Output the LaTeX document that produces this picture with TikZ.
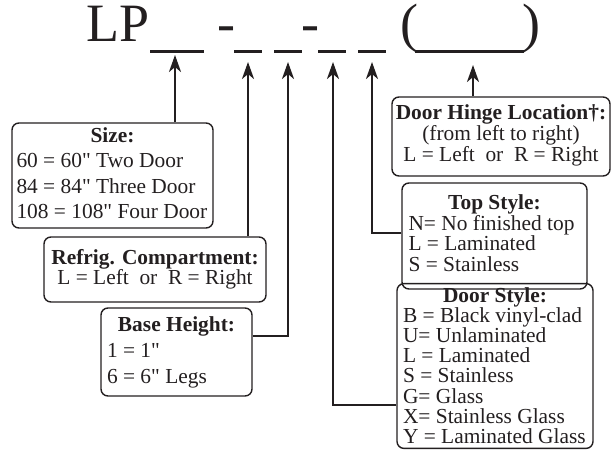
\documentclass[tikz,border=0pt]{standalone}
\usepackage{fontspec}
\setmainfont{Liberation Serif}
\newfontfamily\libserif{Liberation Serif}
\usetikzlibrary{arrows.meta}
\definecolor{ink}{HTML}{231F20}
\begin{document}
\libserif
\begin{tikzpicture}[x=1pt,y=-1pt,
  every node/.style={text=ink},
  titletext/.style={font=\libserif\fontsize{54}{60}\selectfont, inner sep=0pt, anchor=base},
  uline/.style={draw=ink, line width=3pt},
  infobox/.style={draw=ink, line width=1.4pt, rounded corners=7pt, inner sep=0pt},
  conn/.style={draw=ink, line width=2.5pt, line join=miter,
    -{Stealth[length=17pt,width=12pt,inset=5pt]}}]
\useasboundingbox (0,0) rectangle (613,476);

% title line
\node[titletext] (lp) at (118.5,42) {LP};
\node[titletext] (h1) at (226,42) {-};
\node[titletext] (h2) at (310,42) {-};
\node[titletext] (pl) at (409.5,42) {(};
\node[titletext] (pr) at (531,42) {)};
\draw[uline] (150,52) -- (204,52);
\draw[uline] (234,52) -- (262,52);
\draw[uline] (274,52) -- (302,52);
\draw[uline] (318,52) -- (346,52);
\draw[uline] (358,52) -- (386,52);
\draw[uline] (415,52) -- (524,52);

% arrow tips and bends
\coordinate (t1) at (175,55);
\coordinate (t2) at (248,62);
\coordinate (t3) at (288,62);
\coordinate (t4) at (333,62);
\coordinate (t5) at (372,62);
\coordinate (t6) at (473,65);
\coordinate (k3) at (288,336);
\coordinate (k4) at (333,405);
\coordinate (k5) at (372,233);

% boxes
\node[infobox, minimum width=201pt, minimum height=105pt, font=\libserif\fontsize{21.4}{25.3}\selectfont]
  (size) at (112.5,175.5)
  {\begin{tabular}{@{}p{192pt}@{}}\multicolumn{1}{@{}c@{}}{\bfseries Size:}\\
   60 = 60" Two Door\\ 84 = 84" Three Door\\ 108 = 108" Four Door\end{tabular}};

\node[infobox, minimum width=222pt, minimum height=65pt, font=\libserif\fontsize{21.4}{18}\selectfont]
  (refrig) at (155,269.5)
  {\begin{tabular}{@{}c@{}}\bfseries Refrig. Compartment:\\ L = Left~~or~~R = Right\end{tabular}};

\node[infobox, minimum width=151pt, minimum height=88pt, font=\libserif\fontsize{21.4}{26}\selectfont]
  (base) at (176.5,352)
  {\begin{tabular}{@{}p{139pt}@{}}\multicolumn{1}{@{}c@{}}{\bfseries Base Height:}\\
   1 = 1"\\ 6 = 6" Legs\end{tabular}};

\node[infobox, minimum width=196pt, minimum height=142pt, font=\libserif\fontsize{21.4}{17.45}\selectfont]
  (door) at (495,366)
  {\begin{tabular}{@{}p{184pt}@{}}\multicolumn{1}{@{}c@{}}{\rule{0pt}{19pt}\bfseries Door Style:}\\
   B = Black vinyl-clad\\ U= Unlaminated\\ L = Laminated\\ S = Stainless\\
   G= Glass\\ X= Stainless Glass\\ Y = Laminated Glass\end{tabular}};

\node[infobox, minimum width=185pt, minimum height=106pt, font=\libserif\fontsize{21.4}{20}\selectfont]
  (top) at (494.5,236)
  {\begin{tabular}{@{}p{172pt}@{}}\multicolumn{1}{@{}c@{}}{\bfseries Top Style:}\\
   N= No finished top\\ L = Laminated\\ S = Stainless\end{tabular}};

\node[infobox, minimum width=218pt, minimum height=79pt, font=\libserif\fontsize{21.4}{20}\selectfont]
  (hinge) at (501,136.5)
  {\begin{tabular}{@{}c@{}}\bfseries Door Hinge Location\textdagger:\\
   (from left to right)\\ L = Left~~or~~R = Right\end{tabular}};

% connectors
\draw[conn] (size.north -| t1) -- (t1);
\draw[conn] (refrig.north -| t2) -- (t2);
\draw[conn] (base.east |- k3) -- (k3) -- (t3);
\draw[conn] (door.west |- k4) -- (k4) -- (t4);
\draw[conn] (top.west |- k5) -- (k5) -- (t5);
\draw[conn] (hinge.north -| t6) -- (t6);
\end{tikzpicture}
\end{document}
